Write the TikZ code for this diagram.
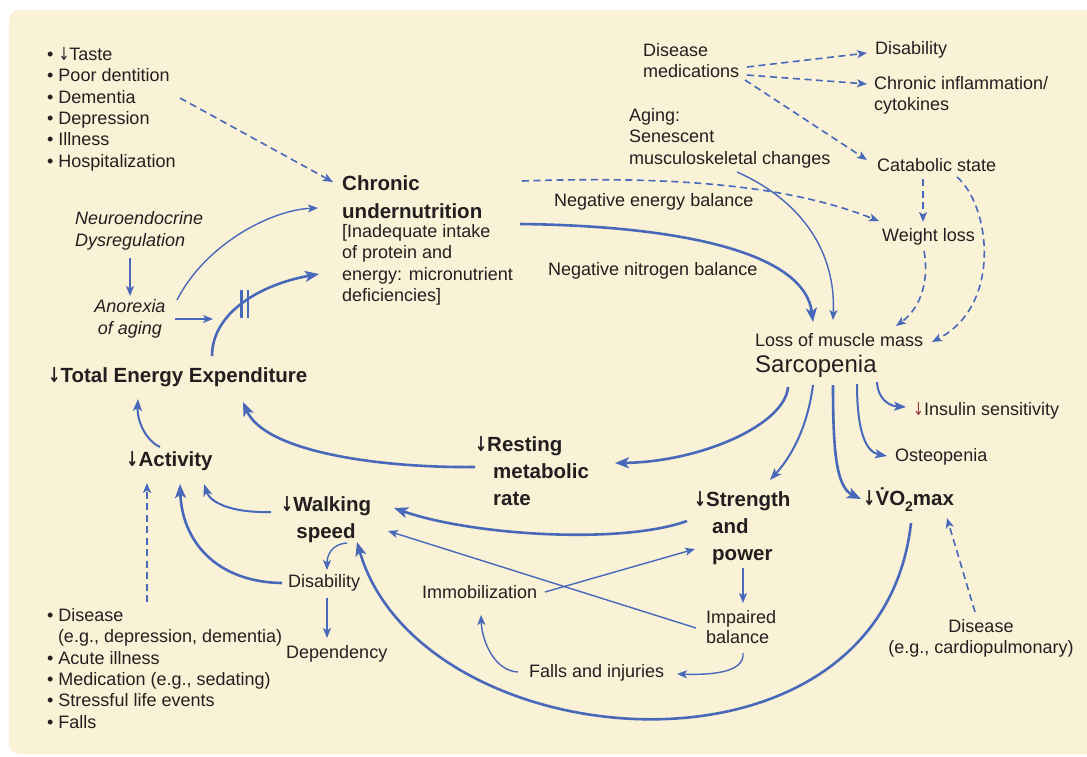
\documentclass[tikz,border=0pt]{standalone}
\usepackage{fontspec}
\usepackage{graphicx}
\setmainfont{Liberation Sans}
\newfontfamily\arrfont{DejaVu Sans}
\usetikzlibrary{arrows.meta}
\definecolor{bgc}{RGB}{250,242,214}
\definecolor{ab}{RGB}{72,104,186}
\definecolor{tx}{RGB}{35,31,32}
\definecolor{mar}{RGB}{150,55,65}
\newcommand\txtN{\fontsize{18}{21.4}\selectfont}
\newcommand\txtB{\bfseries\fontsize{20.5}{27}\selectfont}
\newcommand\txtI{\itshape\fontsize{18}{22}\selectfont}
\newcommand\dnar{\scalebox{0.72}[1]{\arrfont ↓}}
\begin{document}
\begin{tikzpicture}[x=1pt,y=-1pt,
  every node/.style={inner sep=0pt,text=tx},
  lab/.style={font=\txtN,align=left},
  labc/.style={font=\txtN,align=center},
  bld/.style={font=\txtB,align=left},
  itl/.style={font=\txtI,align=left},
  ar/.style={draw=ab,line width=1.4pt,-{Stealth[length=10pt,width=8pt,inset=2.5pt]}},
  med/.style={draw=ab,line width=2pt,-{Stealth[length=12pt,width=9pt,inset=3pt]}},
  thk/.style={draw=ab,line width=2.6pt,-{Stealth[length=14pt,width=11pt,inset=3.5pt]}},
  dsh/.style={ar,line width=1.6pt,dash pattern=on 7pt off 4.5pt}]
\useasboundingbox (0,0) rectangle (1087,756);
\fill[white] (0,0) rectangle (1087,756);
\fill[bgc,rounded corners=10pt] (9,10) rectangle (1120,754);

% ---- nodes
\node[lab,anchor=north west] (tl) at (47,47) {• \dnar Taste\\• Poor dentition\\• Dementia\\• Depression\\• Illness\\• Hospitalization};
\node[font=\bfseries\fontsize{20.5}{28}\selectfont,align=left,anchor=north west] (chr) at (342,175) {Chronic\\undernutrition};
\node[lab,anchor=north west] (chrd) at (342,224) {[Inadequate intake\\of protein and\\energy: micronutrient\\deficiencies]};
\node[itl,anchor=north west] (neuro) at (75,211) {Neuroendocrine\\Dysregulation};
\node[itl,align=center,anchor=north] (anor) at (130,299) {Anorexia\\of aging};
\node[bld,anchor=west] (tee) at (48,377) {\dnar Total Energy Expenditure};
\node[bld,anchor=west] (act) at (126,461) {\dnar Activity};
\node[bld,anchor=north west] (rmr) at (487,436) {\llap{\dnar}Resting\\\hspace*{6pt}metabolic\\\hspace*{6pt}rate};
\node[bld,align=center,anchor=north] (ws) at (326,496) {\dnar Walking\\speed};
\node[bld,anchor=north west] (str) at (706,491) {\llap{\dnar}Strength\\\hspace*{6pt}and\\\hspace*{6pt}power};
\node[bld,anchor=west] (vo2) at (863,500) {\dnar\.{V}O\raisebox{-0.3em}{\fontsize{14}{14}\selectfont 2}max};
\node[lab,anchor=west] (sar1) at (755,340) {Loss of muscle mass};
\node[font=\fontsize{24}{28}\selectfont,anchor=west] (sar2) at (755,366) {Sarcopenia};
\node[lab,anchor=west] (ins) at (913,411) {{\color{mar}\dnar}Insulin sensitivity};
\node[lab,anchor=west] (ost) at (895,457) {Osteopenia};
\node[lab,anchor=north west] (dm) at (643,43) {Disease\\medications};
\node[lab,anchor=west] (dis1) at (875,50) {Disability};
\node[lab,anchor=north west] (chi) at (874,76) {Chronic inflammation/\\cytokines};
\node[lab,anchor=north west] (aging) at (629,108) {Aging:\\Senescent\\musculoskeletal changes};
\node[lab,anchor=west] (cat) at (877,165) {Catabolic state};
\node[lab,anchor=west] (wl) at (882,237) {Weight loss};
\node[lab,anchor=west] (neb) at (554,202) {Negative energy balance};
\node[lab,anchor=west] (nnb) at (548,271) {Negative nitrogen balance};
\node[lab,anchor=west] (dis2) at (288,583) {Disability};
\node[lab,anchor=west] (dep) at (286,654) {Dependency};
\node[lab,anchor=west] (imm) at (422,592) {Immobilization};
\node[lab,anchor=west] (fal) at (529,673) {Falls and injuries};
\node[font=\fontsize{18}{20.5}\selectfont,align=left,anchor=north west] (imb) at (706,610) {Impaired\\balance};
\node[labc,anchor=north] (dcard) at (981,619) {Disease\\(e.g., cardiopulmonary)};
\node[lab,anchor=north west] (bl) at (47,608) {• Disease\\\hspace*{0.6em}(e.g., depression, dementia)\\• Acute illness\\• Medication (e.g., sedating)\\• Stressful life events\\• Falls};
\coordinate (anorend) at (213,319);
\coordinate (blk) at (245,304);

% ---- connectors from sarcopenia
\draw[thk] ([shift={(33,21)}]sar2.west) .. controls (785,425) and (700,462) .. ([shift={(128,27)}]rmr.north west);
\draw[med] ([shift={(58,19)}]sar2.west) .. controls (807,430) and (790,458) .. ([shift={(64,-11)}]str.north west);
\draw[thk] ([shift={(78,19)}]sar2.west) .. controls (833,450) and (836,487) .. ([shift={(-2,-1)}]vo2.west);
\draw[med] ([shift={(102,18)}]sar2.west) .. controls (857,432) and (866,452) .. ([shift={(-8,-1)}]ost.west);
\draw[med] ([shift={(122,16)}]sar2.west) .. controls (878,400) and (890,406) .. ([shift={(-7,-4)}]ins.west);
% ---- into sarcopenia
\draw[thk] ([shift={(178,49)}]chr.north west) .. controls (690,226) and (805,255) .. ([shift={(58,-18)}]sar1.west);
\draw[ar] ([shift={(108,64)}]aging.north west) .. controls (800,200) and (836,250) .. ([shift={(78,-20)}]sar1.west);
\draw[dsh] ([shift={(42,14)}]wl.west) .. controls (930,285) and (918,310) .. ([shift={(141,-14)}]sar1.west);
\draw[dsh] ([shift={(80,12)}]cat.west) .. controls (990,205) and (1003,305) .. ([shift={(177,2)}]sar1.west);
\draw[dsh] ([shift={(46,14)}]cat.west) -- ([shift={(41,-15)}]wl.west);
\draw[dsh] ([shift={(180,6)}]chr.north west) .. controls (700,175) and (800,190) .. ([shift={(-3,-16)}]wl.west);
% ---- top right
\draw[dsh] ([shift={(104,24)}]dm.north west) -- ([shift={(-8,3)}]dis1.west);
\draw[dsh] ([shift={(104,32)}]dm.north west) -- ([shift={(-7,8)}]chi.north west);
\draw[dsh] ([shift={(102,37)}]dm.north west) -- ([shift={(-10,-5)}]cat.west);
% ---- left
\draw[dsh] ([shift={(133,51)}]tl.north west) -- ([shift={(-9,7)}]chr.north west);
\draw[ar] ([shift={(55,47)}]neuro.north west) -- ([shift={(0,-3)}]anor.north);
\draw[ar] ([shift={(47,1)}]anor.north) .. controls (205,245) and (270,210) .. ([shift={(-24,33)}]chr.north west);
\draw[ar] ([shift={(45,20)}]anor.north) -- (anorend);
\draw[thk] ([shift={(164,-21)}]tee.west) .. controls (212,312) and (262,284) .. ([shift={(-23,50)}]chrd.north west);
\draw[draw=ab,line width=2.6pt] ([shift={(-3.5,-14)}]blk) -- ++(0,28) ([shift={(3,-14)}]blk) -- ++(0,28);
\draw[med] ([shift={(34,-14)}]act.west) .. controls (145,440) and (137,420) .. ([shift={(90,22)}]tee.west);
\draw[thk] ([shift={(-12,31)}]rmr.north west) .. controls (380,468) and (265,452) .. ([shift={(195,25)}]tee.west);
\draw[med] ([shift={(-55,16)}]ws.north) .. controls (230,513) and (210,502) .. ([shift={(78,23)}]act.west);
\draw[thk] ([shift={(-6,0)}]dis2.west) .. controls (215,582) and (182,540) .. ([shift={(54,23)}]act.west);
\draw[dsh] ([shift={(100,-6)}]bl.north west) -- ([shift={(21,22)}]act.west);
\draw[ar] ([shift={(21,47)}]ws.north) .. controls (332,544) and (327,555) .. ([shift={(39,-13)}]dis2.west);
\draw[ar] ([shift={(39,15)}]dis2.west) -- ([shift={(41,-16)}]dep.west);
% ---- bottom
\draw[thk] ([shift={(48,23)}]vo2.west) .. controls (880,800) and (420,760) .. ([shift={(31,46)}]ws.north);
\draw[thk] ([shift={(-19,30)}]str.north west) .. controls (620,545) and (470,535) .. ([shift={(68,12)}]ws.north);
\draw[ar] ([shift={(-10,18)}]imb.north west) -- ([shift={(62,35)}]ws.north);
\draw[ar] ([shift={(123,0)}]imm.west) -- ([shift={(-11,58)}]str.north west);
\draw[ar] ([shift={(37,77)}]str.north west) -- ([shift={(37,-7)}]imb.north west);
\draw[ar] ([shift={(37,43)}]imb.north west) .. controls (745,673) and (710,675) .. ([shift={(148,1)}]fal.west);
\draw[ar] ([shift={(-11,-1)}]fal.west) .. controls (495,671) and (482,642) .. ([shift={(59,23)}]imm.west);
\draw[dsh] ([shift={(-6,-7)}]dcard.north) -- ([shift={(84,18)}]vo2.west);
\end{tikzpicture}
\end{document}
